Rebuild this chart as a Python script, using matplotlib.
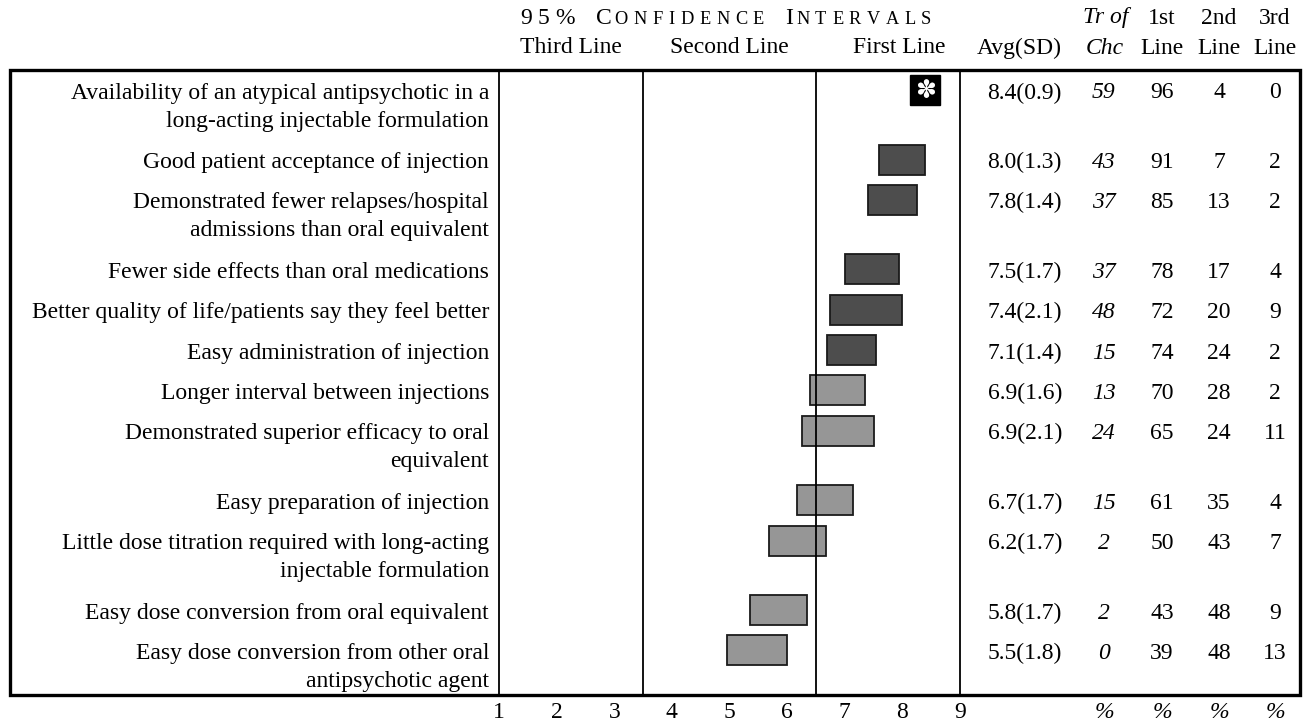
import matplotlib
matplotlib.use("Agg")
import matplotlib.pyplot as plt
from matplotlib.patches import Rectangle

# ---- data ----
labels = [
    "Availability of an atypical antipsychotic in a\nlong-acting injectable formulation",
    "Good patient acceptance of injection",
    "Demonstrated fewer relapses/hospital\nadmissions than oral equivalent",
    "Fewer side effects than oral medications",
    "Better quality of life/patients say they feel better",
    "Easy administration of injection",
    "Longer interval between injections",
    "Demonstrated superior efficacy to oral\nequivalent",
    "Easy preparation of injection",
    "Little dose titration required with long-acting\ninjectable formulation",
    "Easy dose conversion from oral equivalent",
    "Easy dose conversion from other oral\nantipsychotic agent",
]
avg = [8.4, 8.0, 7.8, 7.5, 7.4, 7.1, 6.9, 6.9, 6.7, 6.2, 5.8, 5.5]
sd = [0.9, 1.3, 1.4, 1.7, 2.1, 1.4, 1.6, 2.1, 1.7, 1.7, 1.7, 1.8]
ci_low = [None, 7.6, 7.4, 7.0, 6.75, 6.7, 6.4, 6.25, 6.17, 5.69, 5.36, 4.96]
ci_high = [None, 8.4, 8.25, 7.95, 8.0, 7.55, 7.35, 7.5, 7.15, 6.68, 6.35, 6.0]
tr_chc = [59, 43, 37, 37, 48, 15, 13, 24, 15, 2, 2, 0]
first_line = [96, 91, 85, 78, 72, 74, 70, 65, 61, 50, 43, 39]
second_line = [4, 7, 13, 17, 20, 24, 28, 24, 35, 43, 48, 48]
third_line = [0, 2, 2, 4, 9, 2, 2, 11, 4, 7, 9, 13]
scale_ticks = [1, 2, 3, 4, 5, 6, 7, 8, 9]
zone_bounds = [3.5, 6.5]
zone_names = ["Third Line", "Second Line", "First Line"]

# ---- layout (pixel units, y down) ----
W, H = 1308, 724
box_l, box_r, box_t, box_b = 10, 1300, 70, 695
plot_l, plot_r = 499, 960
row0 = 90
step_single, step_extra = 40.3, 29.3
line_gap = 28
txt_dy = 3
fs = 17
serif = "Liberation Serif"

nlines = [lab.count("\n") + 1 for lab in labels]
row_y = [row0]
for n in nlines[:-1]:
    row_y.append(row_y[-1] + step_single + step_extra * (n - 1))

fig = plt.figure(figsize=(W / 100, H / 100), dpi=100)
bg = fig.add_axes([0, 0, 1, 1])
bg.set_xlim(0, W)
bg.set_ylim(H, 0)
bg.axis("off")

ax = fig.add_axes([plot_l / W, (H - box_b) / H, (plot_r - plot_l) / W, (box_b - box_t) / H])
ax.set_facecolor("none")
ax.set_xlim(1, 9)
ax.set_ylim(box_b, box_t)
for s in ["top", "bottom"]:
    ax.spines[s].set_visible(False)
for s in ["left", "right"]:
    ax.spines[s].set_linewidth(1.3)
ax.set_yticks([])
ax.set_xticks(scale_ticks)
ax.set_xticklabels([str(t) for t in scale_ticks], fontsize=fs, family=serif)
ax.tick_params(axis="x", length=0, pad=5)
for b in zone_bounds:
    ax.axvline(b, color="black", lw=1.3)

# CI bars
for i in range(len(labels)):
    if ci_low[i] is None:
        ax.plot(avg[i], row_y[i], marker="s", ms=22, color="black")
        ax.text(avg[i], row_y[i] + 1, "\u273d", color="white", fontsize=18,
                ha="center", va="center", family=["DejaVu Sans"])
        continue
    col = "#4d4d4d" if ci_low[i] > zone_bounds[1] else "#969696"
    ax.barh(row_y[i], ci_high[i] - ci_low[i], left=ci_low[i], height=30,
            color=col, edgecolor="#1a1a1a", linewidth=1.3)

# outer box
bg.add_patch(Rectangle((box_l, box_t), box_r - box_l, box_b - box_t,
                       fill=False, lw=2.4, edgecolor="black"))

# row labels and table values
x_avg, x_tr, x_1, x_2, x_3 = 1062, 1104, 1162, 1219, 1275
for i, lab in enumerate(labels):
    for k, line in enumerate(lab.split("\n")):
        bg.text(489, row_y[i] + txt_dy + k * line_gap, line, ha="right", va="center",
                fontsize=fs, family=serif)
    y = row_y[i] + txt_dy
    bg.text(x_avg, y, f"{avg[i]:.1f}({sd[i]:.1f})", ha="right", va="center",
            fontsize=fs, family=serif)
    bg.text(x_tr, y, str(tr_chc[i]), ha="center", va="center", fontsize=fs,
            family=serif, style="italic")
    bg.text(x_1, y, str(first_line[i]), ha="center", va="center", fontsize=fs, family=serif)
    bg.text(x_2, y, str(second_line[i]), ha="center", va="center", fontsize=fs, family=serif)
    bg.text(x_3, y, str(third_line[i]), ha="center", va="center", fontsize=fs, family=serif)

# column headers
h1, h2 = 18, 48
bg.text(x_avg, h2, "Avg(SD)", ha="right", va="center", fontsize=fs, family=serif)
bg.text(x_tr + 2, h1, "Tr of", ha="center", va="center", fontsize=fs, family=serif, style="italic")
bg.text(x_tr + 1, h2, "Chc", ha="center", va="center", fontsize=fs, family=serif, style="italic")
for xc, top in [(x_1, "1st"), (x_2, "2nd"), (x_3, "3rd")]:
    bg.text(xc, h1, top, ha="center", va="center", fontsize=fs, family=serif)
    bg.text(xc, h2, "Line", ha="center", va="center", fontsize=fs, family=serif)
for xc in [x_tr, x_1, x_2, x_3]:
    bg.text(xc, 712, "%", ha="center", va="center", fontsize=fs, family=serif, style="italic")

# zone names under the title
zone_mid = [2.25, 5.0, 7.95]
for xm, name in zip(zone_mid, zone_names):
    ax.text(xm, h2, name, ha="center", va="center", fontsize=fs, family=serif,
            clip_on=False)

# small-caps spaced title
renderer = fig.canvas.get_renderer()
small = 13.2
words = [[("9", fs), ("5", fs), ("%", fs)],
         [("C", fs)] + [(c, small) for c in "ONFIDENCE"],
         [("I", fs)] + [(c, small) for c in "NTERVALS"]]
track, wgap = 5.6, 21
items = []
for wi, w in enumerate(words):
    if wi:
        items.append(None)
    for ch, size in w:
        t = bg.text(0, h1, ch, fontsize=size, family=serif, ha="left", va="baseline")
        adv = t.get_window_extent(renderer).width - (2.5 if ch in "CI" and size == fs else 0)
        items.append((t, adv))


def advance(k):
    it = items[k]
    if it is None:
        return wgap
    nxt = k + 1 < len(items) and items[k + 1] is not None
    return it[1] + (track if nxt else 0)


total = sum(advance(k) for k in range(len(items)))
x = 726 - total / 2
for k, it in enumerate(items):
    if it is not None:
        it[0].set_position((x, h1 + 6))
    x += advance(k)

fig.savefig("out.png", dpi=100)
